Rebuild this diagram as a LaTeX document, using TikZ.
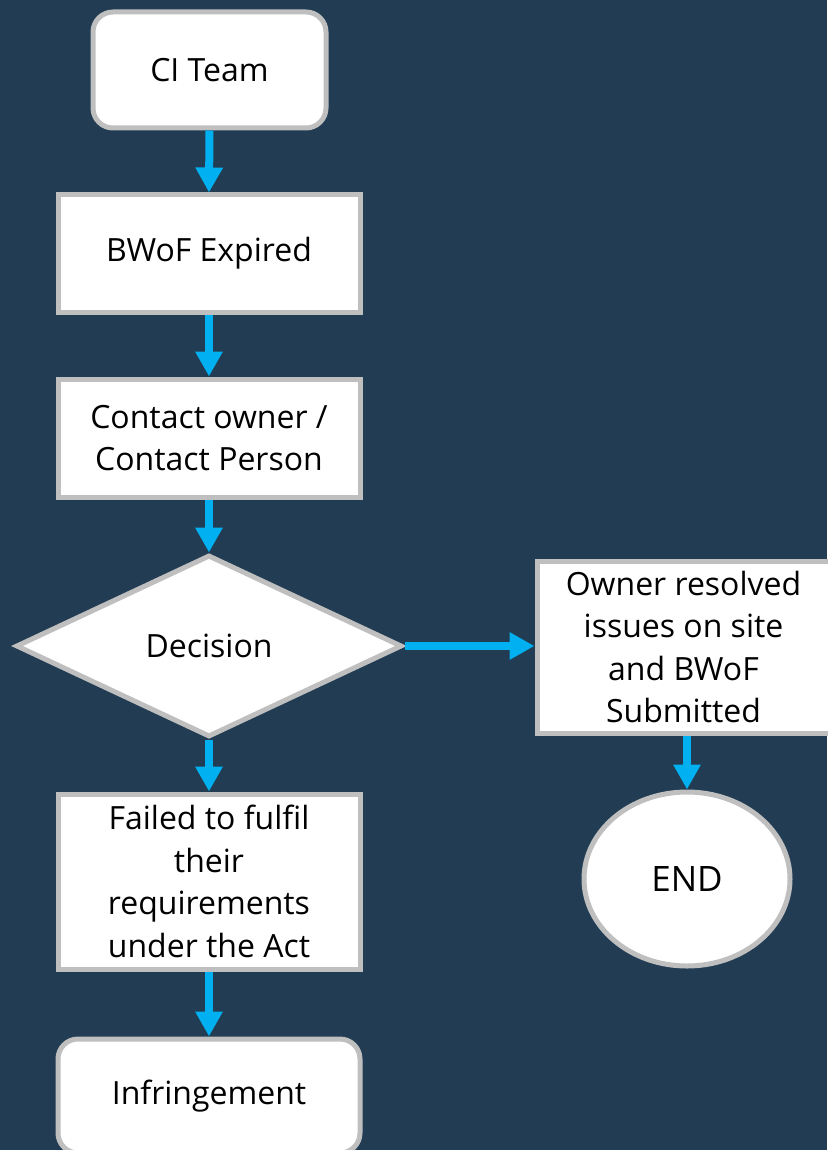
\documentclass[tikz,border=0pt]{standalone}
\usepackage{fontspec}
\setmainfont{Open Sans}
\usetikzlibrary{arrows.meta,shapes.geometric}
\definecolor{bg}{HTML}{213C53}
\definecolor{edge}{HTML}{BFBFBF}
\definecolor{arr}{HTML}{00B0F0}
\begin{document}
\begin{tikzpicture}[x=1pt,y=-1pt,
  box/.style={draw=edge,line width=5pt,fill=white,inner sep=0pt,align=center,
    font=\fontsize{32}{42.5}\selectfont,text=black},
  rbox/.style={box,rounded corners=20pt},
  flow/.style={draw=arr,line width=8pt,-{Triangle[width=26pt,length=25pt]}}]
\fill[bg] (0,0) rectangle (827,1150);
\useasboundingbox (0,0) rectangle (827,1150);
\node[rbox,minimum width=233pt,minimum height=116pt] (ci) at (209.5,70) {\raisebox{-4pt}{CI Team}};
\node[box,minimum width=302pt,minimum height=117pt] (bwof) at (209,253.5) {\raisebox{-4pt}{BWoF Expired}};
\node[box,minimum width=302pt,minimum height=118pt] (contact) at (209,438) {Contact owner /\\Contact Person};
\node[box,shape=diamond,aspect=2.1,minimum width=386pt,minimum height=182pt] (dec) at (209,646) {\raisebox{-3pt}{Decision}};
\node[box,minimum width=302pt,minimum height=175pt] (fail) at (209,881.5) {Failed to fulfil\\their\\requirements\\under the Act};
\node[rbox,minimum width=302pt,minimum height=114pt] (inf) at (209,1096) {\raisebox{-4pt}{Infringement}};
\node[box,minimum width=293pt,minimum height=172pt] (res) at (683.5,647) {Owner resolved\\issues on site\\and BWoF\\Submitted};
\node[box,shape=ellipse,minimum width=206pt,minimum height=174pt,font=\fontsize{35}{40}\selectfont] (end) at (687,879) {\raisebox{-2pt}{END}};
\draw[flow] (ci.south) -- (bwof.north);
\draw[flow] (bwof.south) -- (contact.north);
\draw[flow] (contact.south) -- (dec.north);
\draw[flow] (dec.south) -- (fail.north);
\draw[flow] (fail.south) -- (inf.north);
\draw[flow] (dec.east) -- (dec.east -| res.west);
\draw[flow] (res.south -| end.north) -- (end.north);
\end{tikzpicture}
\end{document}
